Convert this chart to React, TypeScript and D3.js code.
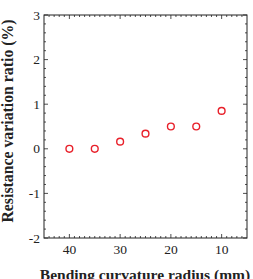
import React from "react";
import * as d3 from "d3";

const radius = [40, 35, 30, 25, 20, 15, 10];
const ratio = [0.0, 0.0, 0.16, 0.34, 0.5, 0.5, 0.85];
const xTicks = [40, 30, 20, 10];
const yTicks = [-2, -1, 0, 1, 2, 3];

const W = 253, H = 279;
const L = 44, R = 247, T = 15, B = 238;

export default function App() {
  const x = d3.scaleLinear().domain([45, 5]).range([L, R]);
  const y = d3.scaleLinear().domain([-2, 3]).range([B, T]);
  const xMinor = d3.range(6, 45, 1);
  const yMinor = d3.range(-2, 3.001, 0.2);
  const font = "'Liberation Serif', 'Times New Roman', serif";
  return (
    <svg width={W} height={H} style={{ position: "absolute", left: 0, top: 0, background: "#fff" }}>
      <rect x={L} y={T} width={R - L} height={B - T} fill="none" stroke="#222" strokeWidth={1} />
      {xMinor.map((v) => {
        const major = v % 10 === 0;
        const len = major ? 4 : 2;
        return (
          <g key={"xm" + v} stroke="#222" strokeWidth={0.8}>
            <line x1={x(v)} x2={x(v)} y1={B} y2={B - len} />
            <line x1={x(v)} x2={x(v)} y1={T} y2={T + len} />
          </g>
        );
      })}
      {yMinor.map((v, i) => {
        const major = i % 5 === 0;
        const len = major ? 4 : 2;
        return (
          <g key={"ym" + i} stroke="#222" strokeWidth={0.8}>
            <line x1={L} x2={L + len} y1={y(v)} y2={y(v)} />
            <line x1={R} x2={R - len} y1={y(v)} y2={y(v)} />
          </g>
        );
      })}
      {xTicks.map((v) => (
        <text key={"xt" + v} x={x(v)} y={254} textAnchor="middle" fontFamily={font} fontSize={13.5} fill="#222">
          {v}
        </text>
      ))}
      {yTicks.map((v) => (
        <text key={"yt" + v} x={40} y={y(v) + 4.5} textAnchor="end" fontFamily={font} fontSize={13.5} fill="#222">
          {v}
        </text>
      ))}
      {radius.map((r, i) => (
        <circle key={"c" + i} cx={x(r)} cy={y(ratio[i])} r={3.4} fill="none" stroke="#e8202a" strokeWidth={1.4} />
      ))}
      <text x={145} y={280} textAnchor="middle" fontFamily={font} fontSize={15.5} fontWeight="bold" fill="#222">
        Bending curvature radius (mm)
      </text>
      <text transform={`translate(13,${121}) rotate(-90)`} textAnchor="middle" fontFamily={font} fontSize={15.8} fontWeight="bold" fill="#222">
        Resistance variation ratio (%)
      </text>
    </svg>
  );
}
